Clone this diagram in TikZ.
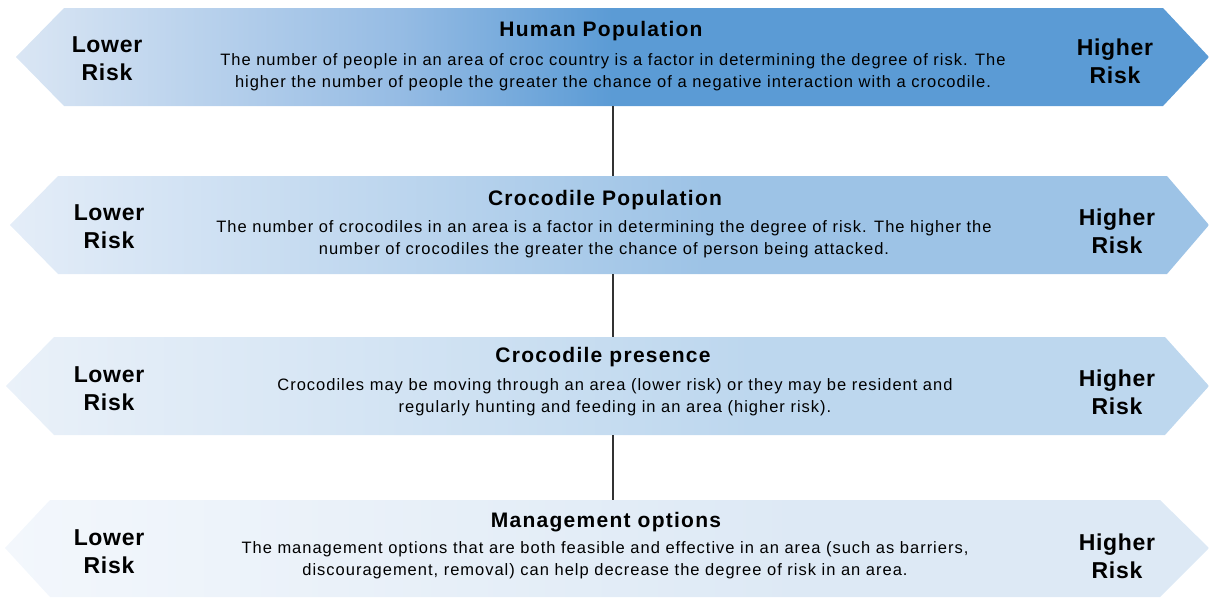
\documentclass[tikz,border=0pt]{standalone}
\usepackage{fontspec}
\setmainfont{Liberation Sans}
\newfontfamily\spacedfont[LetterSpace=6]{Liberation Sans}
\newfontfamily\riskfont[LetterSpace=3]{Liberation Sans}
\usetikzlibrary{positioning}

% colours of the four bars
\definecolor{humanleft}{RGB}{218,230,244}
\definecolor{humanmid}{RGB}{150,188,228}
\definecolor{humanright}{RGB}{91,155,213}
\definecolor{crocleft}{RGB}{228,237,248}
\definecolor{crocright}{RGB}{157,195,230}
\definecolor{presleft}{RGB}{234,241,249}
\definecolor{presright}{RGB}{189,215,238}
\definecolor{mgmtleft}{RGB}{243,247,252}
\definecolor{mgmtright}{RGB}{221,233,245}
\definecolor{linkgray}{RGB}{50,50,50}

% horizontal fills, path spans 25bp to 75bp
\pgfdeclarehorizontalshading{humanfill}{100bp}{color(0bp)=(humanleft); color(25bp)=(humanleft);
  color(41bp)=(humanmid); color(50bp)=(humanright); color(100bp)=(humanright)}
\pgfdeclarehorizontalshading{crocfill}{100bp}{color(0bp)=(crocleft); color(25bp)=(crocleft);
  color(54bp)=(crocright); color(100bp)=(crocright)}
\pgfdeclarehorizontalshading{presfill}{100bp}{color(0bp)=(presleft); color(25bp)=(presleft);
  color(56bp)=(presright); color(100bp)=(presright)}
\pgfdeclarehorizontalshading{mgmtfill}{100bp}{color(0bp)=(mgmtleft); color(25bp)=(mgmtleft);
  color(58bp)=(mgmtright); color(100bp)=(mgmtright)}

\tikzset{
  rowtitle/.style={font=\spacedfont\fontsize{21}{24}\selectfont\bfseries, inner sep=0pt},
  rowtext/.style={font=\spacedfont\fontsize{16.5}{22}\selectfont, align=center, inner sep=0pt},
  riskmark/.style={font=\riskfont\fontsize{23}{28}\selectfont\bfseries, align=center, inner sep=0pt},
  rowlink/.style={draw=linkgray, line width=1.6pt},
}

\begin{document}
\begin{tikzpicture}[x=1pt,y=-1pt]
    \useasboundingbox (0,0) rectangle (1209,597);

    % Human population
    \shade[shading=humanfill] (16,57) -- (64,8) -- (1163,8) -- (1209,57) -- (1163,106) -- (64,106) -- cycle;
    \coordinate (human-bottom) at (613,106);
    \node[rowtitle] (human) at (601,31) {Human Population};
    \node[rowtext] (human-text) at (613,72) {The number of people in an area of croc country is a factor in determining the degree of risk. The\\higher the number of people the greater the chance of a negative interaction with a crocodile.};
    \node[riskmark] (human-low) at (107,59) {Lower\\Risk};
    \node[riskmark] (human-high) at (1115,61) {Higher\\Risk};

    % Crocodile population
    \shade[shading=crocfill] (10,225) -- (58,176) -- (1167,176) -- (1209,225) -- (1167,274) -- (58,274) -- cycle;
    \coordinate (croc-top) at (613,176);
    \coordinate (croc-bottom) at (613,274);
    \node[rowtitle] (croc) at (605,200) {Crocodile Population};
    \node[rowtext] (croc-text) at (604,239) {The number of crocodiles in an area is a factor in determining the degree of risk. The higher the\\number of crocodiles the greater the chance of person being attacked.};
    \node[riskmark] (croc-low) at (109,227) {Lower\\Risk};
    \node[riskmark] (croc-high) at (1117,231) {Higher\\Risk};

    % Crocodile presence
    \shade[shading=presfill] (6,386) -- (54,337) -- (1165,337) -- (1209,386) -- (1165,435) -- (54,435) -- cycle;
    \coordinate (pres-top) at (613,337);
    \coordinate (pres-bottom) at (613,435);
    \node[rowtitle] (pres) at (603,357) {Crocodile presence};
    \node[rowtext] (pres-text) at (615,397) {Crocodiles may be moving through an area (lower risk) or they may be resident and\\regularly hunting and feeding in an area (higher risk).};
    \node[riskmark] (pres-low) at (109,389) {Lower\\Risk};
    \node[riskmark] (pres-high) at (1117,392) {Higher\\Risk};

    % Management options
    \shade[shading=mgmtfill] (5,548) -- (50,500) -- (1160,500) -- (1209,548) -- (1160,597) -- (50,597) -- cycle;
    \coordinate (mgmt-top) at (613,500);
    \node[rowtitle] (mgmt) at (606,522) {Management options};
    \node[rowtext] (mgmt-text) at (605,560) {The management options that are both feasible and effective in an area (such as barriers,\\discouragement, removal) can help decrease the degree of risk in an area.};
    \node[riskmark] (mgmt-low) at (109,552) {Lower\\Risk};
    \node[riskmark] (mgmt-high) at (1117,556) {Higher\\Risk};

    % Links between the bars
    \draw[rowlink] (human-bottom) -- (croc-top);
    \draw[rowlink] (croc-bottom) -- (pres-top);
    \draw[rowlink] (pres-bottom) -- (mgmt-top);
\end{tikzpicture}
\end{document}
